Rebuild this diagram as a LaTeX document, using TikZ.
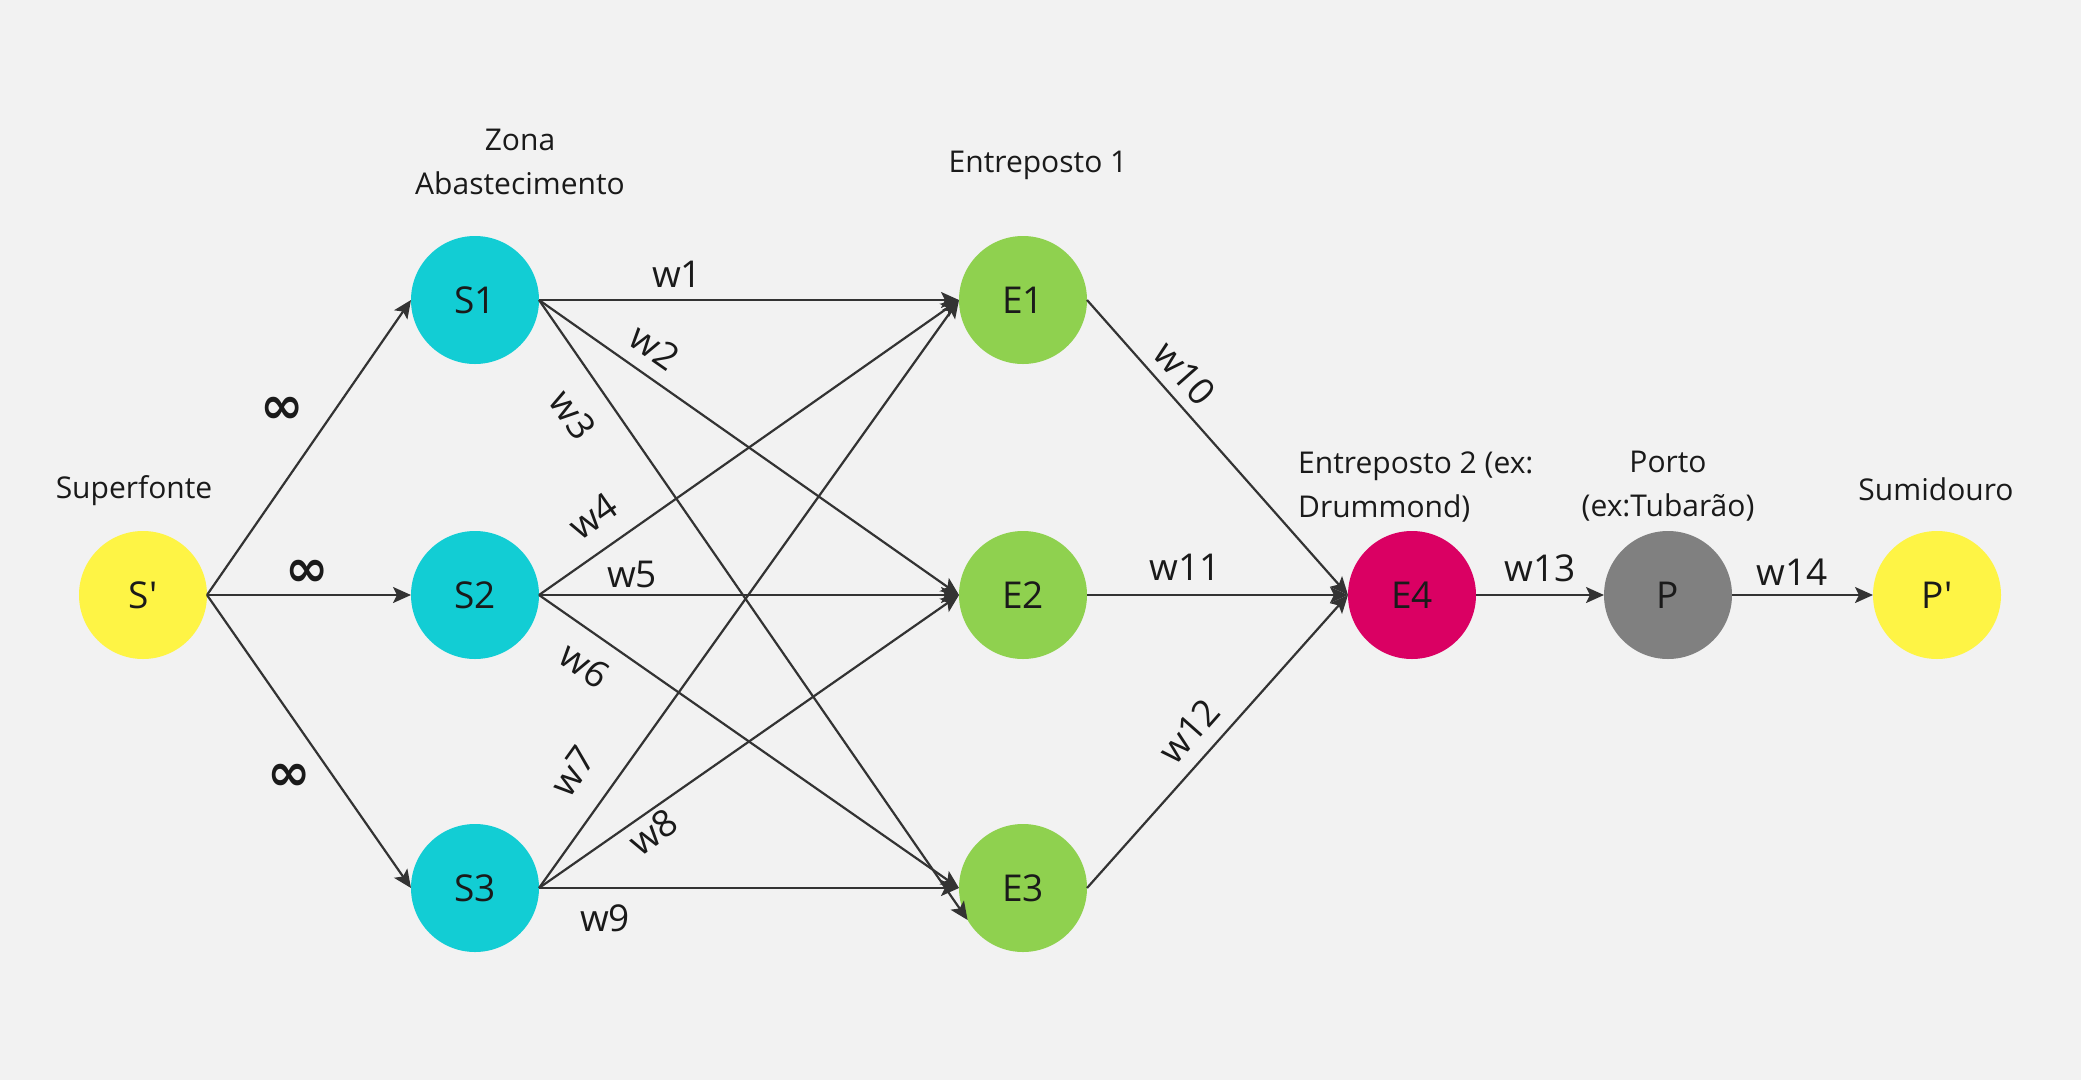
\documentclass[tikz,border=0pt]{standalone}
\usepackage{fontspec}
\setmainfont{Open Sans}[Ligatures=TeXOff]
\newfontfamily\symfont{DejaVu Sans}
\usetikzlibrary{arrows.meta}
\definecolor{bgc}{HTML}{F2F2F2}
\definecolor{txt}{HTML}{1A1A1A}
\definecolor{edgec}{HTML}{333333}
\definecolor{ylw}{HTML}{FEF445}
\definecolor{cyn}{HTML}{12CDD4}
\definecolor{grn}{HTML}{8FD14F}
\definecolor{mag}{HTML}{DA0063}
\definecolor{gry}{HTML}{808080}
\begin{document}
\begin{tikzpicture}[x=1pt,y=-1pt,
  vtx/.style={circle,minimum size=128pt,inner sep=0pt,outer sep=0pt,font=\fontsize{37}{44}\selectfont,text=txt},
  arr/.style={draw=edgec,line width=2.2pt,-{Stealth[length=18pt,width=16pt,inset=4pt]}},
  lbl/.style={font=\fontsize{30}{44}\selectfont,text=txt,inner sep=0pt,align=center},
  wl/.style={font=\fontsize{37}{44}\selectfont,text=txt,inner sep=0pt},
  inf/.style={font=\symfont\bfseries\fontsize{52}{52}\selectfont,text=txt,inner sep=0pt}
]
\useasboundingbox (0,0) rectangle (2081,1080);
\fill[bgc] (0,0) rectangle (2081,1080);

% vertices
\node[vtx,fill=ylw] (Sp) at (143,595) {S'};
\node[vtx,fill=cyn] (S1) at (475,300) {S1};
\node[vtx,fill=cyn] (S2) at (475,595) {S2};
\node[vtx,fill=cyn] (S3) at (475,888) {S3};
\node[vtx,fill=grn] (E1) at (1023,300) {E1};
\node[vtx,fill=grn] (E2) at (1023,595) {E2};
\node[vtx,fill=grn] (E3) at (1023,888) {E3};
\node[vtx,fill=mag] (E4) at (1412,595) {E4};
\node[vtx,fill=gry] (P) at (1668,595) {P};
\node[vtx,fill=ylw] (Pp) at (1937,595) {P'};

% group labels (base = baseline of last line)
\node[lbl,anchor=base] (tSp) at (134,498) {Superfonte};
\node[lbl,anchor=base] (tS) at (520,194) {Zona\\Abastecimento};
\node[lbl,anchor=base] (tE) at (1038,172) {Entreposto 1};
\node[lbl,anchor=base west,align=left] (tE4) at (1298,517) {Entreposto 2 (ex:\\Drummond)};
\node[lbl,anchor=base] (tP) at (1668,516) {Porto\\(ex:Tubarão)};
\node[lbl,anchor=base] (tPp) at (1936,500) {Sumidouro};

% edges
\draw[arr] (Sp.east) -- (S1.west);
\draw[arr] (Sp.east) -- (S2.west);
\draw[arr] (Sp.east) -- (S3.west);
\draw[arr] (S1.east) -- (E1.west);
\draw[arr] (S1.east) -- (E2.west);
\draw[arr] (S1.east) -- (E3.210);
\draw[arr] (S2.east) -- (E1.west);
\draw[arr] (S2.east) -- (E2.west);
\draw[arr] (S2.east) -- (E3.west);
\draw[arr] (S3.east) -- (E1.west);
\draw[arr] (S3.east) -- (E2.west);
\draw[arr] (S3.east) -- (E3.west);
\draw[arr] (E1.east) -- (E4.west);
\draw[arr] (E2.east) -- (E4.west);
\draw[arr] (E3.east) -- (E4.west);
\draw[arr] (E4.east) -- (P.west);
\draw[arr] (P.east) -- (Pp.west);

% infinity labels
\node[inf] (i1) at (282,410) {∞};
\node[inf] (i2) at (307,573) {∞};
\node[inf] (i3) at (289,777) {∞};

% weights
\node[wl] (w1) at (677,274) {w1};
\node[wl,rotate=-35] (w2) at (655,347) {w2};
\node[wl,rotate=-55.5] (w3) at (573,415) {w3};
\node[wl,rotate=35] (w4) at (593,516) {w4};
\node[wl] (w5) at (632,574) {w5};
\node[wl,rotate=-35] (w6) at (585,665) {w6};
\node[wl,rotate=54.5] (w7) at (573,771) {w7};
\node[wl,rotate=35] (w8) at (653,832) {w8};
\node[wl] (w9) at (605,918) {w9};
\node[wl,rotate=-48.5] (w10) at (1185,373) {w10};
\node[wl] (w11) at (1185,567) {w11};
\node[wl,rotate=48.5] (w12) at (1189,731) {w12};
\node[wl] (w13) at (1540,568) {w13};
\node[wl] (w14) at (1792,572) {w14};
\end{tikzpicture}
\end{document}
